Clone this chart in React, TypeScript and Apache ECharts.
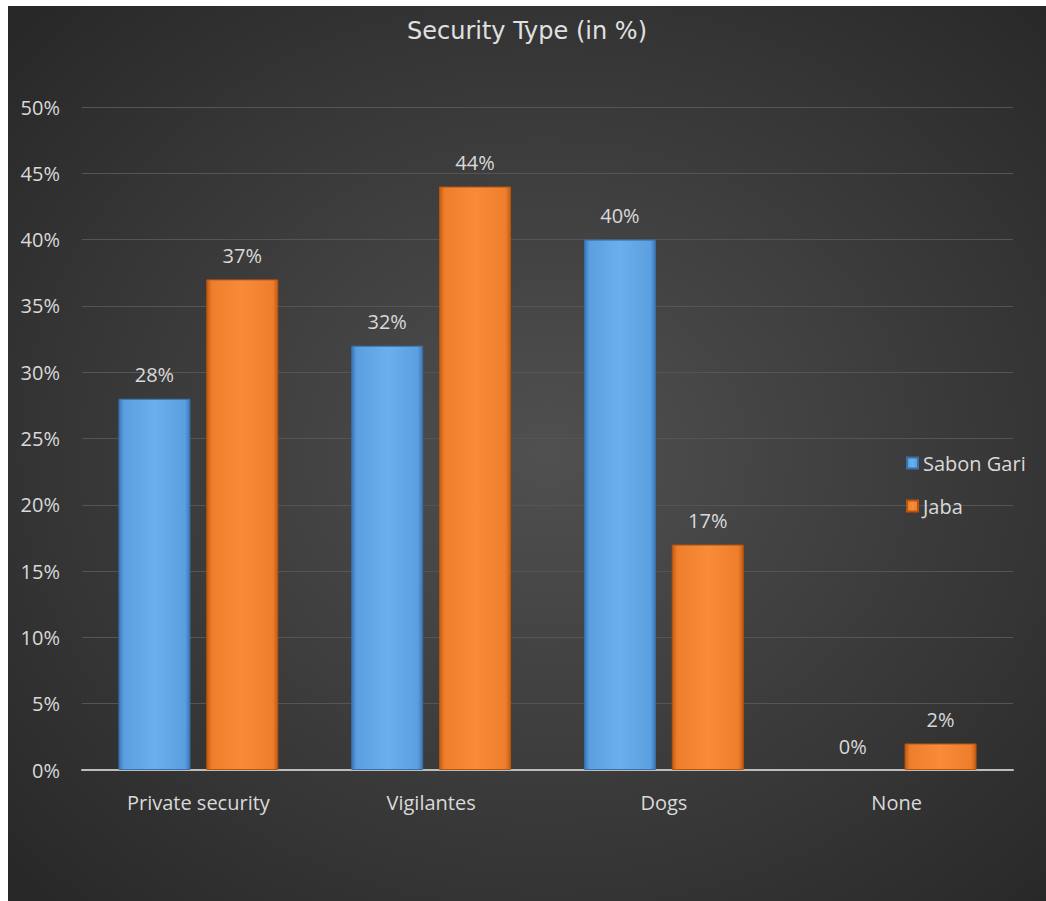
import React, { useEffect, useRef } from "react";
import * as echarts from "echarts";

const categories = ["Private security", "Vigilantes", "Dogs", "None"];
const sabonGari = [28, 32, 40, 0];
const jaba = [37, 44, 17, 2];

const blueGrad = new echarts.graphic.LinearGradient(0, 0, 1, 0, [
  { offset: 0, color: "#3a78b8" },
  { offset: 0.07, color: "#5b9fe0" },
  { offset: 0.5, color: "#6cafec" },
  { offset: 0.93, color: "#5b9fe0" },
  { offset: 1, color: "#3a78b8" },
]);
const orangeGrad = new echarts.graphic.LinearGradient(0, 0, 1, 0, [
  { offset: 0, color: "#c35c12" },
  { offset: 0.07, color: "#ee7e2c" },
  { offset: 0.5, color: "#f98b38" },
  { offset: 0.93, color: "#ee7e2c" },
  { offset: 1, color: "#c35c12" },
]);

const toData = (arr: number[]) =>
  arr.map((v) => (v === 0 ? { value: v, itemStyle: { borderWidth: 0, opacity: 0 } } : v));

export default function App() {
  const ref = useRef<HTMLDivElement>(null);
  useEffect(() => {
    const chart = echarts.init(ref.current!, null, { renderer: "svg" });
    const font = "'Open Sans', 'Noto Sans', sans-serif";
    const labelStyle = {
      show: true,
      position: "top" as const,
      distance: 14,
      color: "#d9d9d9",
      fontSize: 20,
      fontFamily: font,
      formatter: "{c}%",
      opacity: 1,
    };
    chart.setOption({
      animation: false,
      backgroundColor: "transparent",
      title: {
        text: "Security Type (in %)",
        left: "center",
        top: 8,
        textStyle: { color: "#e0e0e0", fontSize: 24, fontWeight: "normal", fontFamily: "'DejaVu Sans', sans-serif" },
      },
      legend: {
        orient: "vertical",
        left: 893,
        top: 442,
        itemWidth: 11,
        itemHeight: 11,
        itemGap: 23,
        icon: "rect",
        textStyle: { color: "#d9d9d9", fontSize: 20, fontFamily: font },
        data: ["Sabon Gari", "Jaba"],
      },
      grid: { left: 74, right: 33, top: 101, bottom: 131, containLabel: false },
      xAxis: {
        type: "category",
        data: categories,
        axisLine: { lineStyle: { color: "#bdbdbd", width: 2 } },
        axisTick: { show: false },
        axisLabel: { color: "#d9d9d9", fontSize: 20, fontFamily: font, margin: 22 },
      },
      yAxis: {
        type: "value",
        min: 0,
        max: 50,
        interval: 5,
        axisLine: { show: false },
        axisTick: { show: false },
        axisLabel: { color: "#d9d9d9", fontSize: 20, fontFamily: font, margin: 22, formatter: "{value}%" },
        splitLine: { lineStyle: { color: "#555555", width: 1 } },
      },
      series: [
        {
          name: "Sabon Gari",
          type: "bar",
          data: toData(sabonGari),
          barWidth: 72,
          barGap: "22%",
          itemStyle: { color: blueGrad, borderColor: "#3a6fa8", borderWidth: 1 },
          label: labelStyle,
        },
        {
          name: "Jaba",
          type: "bar",
          data: toData(jaba),
          barWidth: 72,
          itemStyle: { color: orangeGrad, borderColor: "#b5560f", borderWidth: 1 },
          label: labelStyle,
        },
      ],
    });
    return () => chart.dispose();
  }, []);
  return (
    <div
      ref={ref}
      style={{
        position: "absolute",
        left: 8,
        top: 6,
        width: 1038,
        height: 895,
        background: "radial-gradient(ellipse 70% 70% at 52% 50%, #505050 0%, #3c3c3c 50%, #282828 100%)",
      }}
    />
  );
}
